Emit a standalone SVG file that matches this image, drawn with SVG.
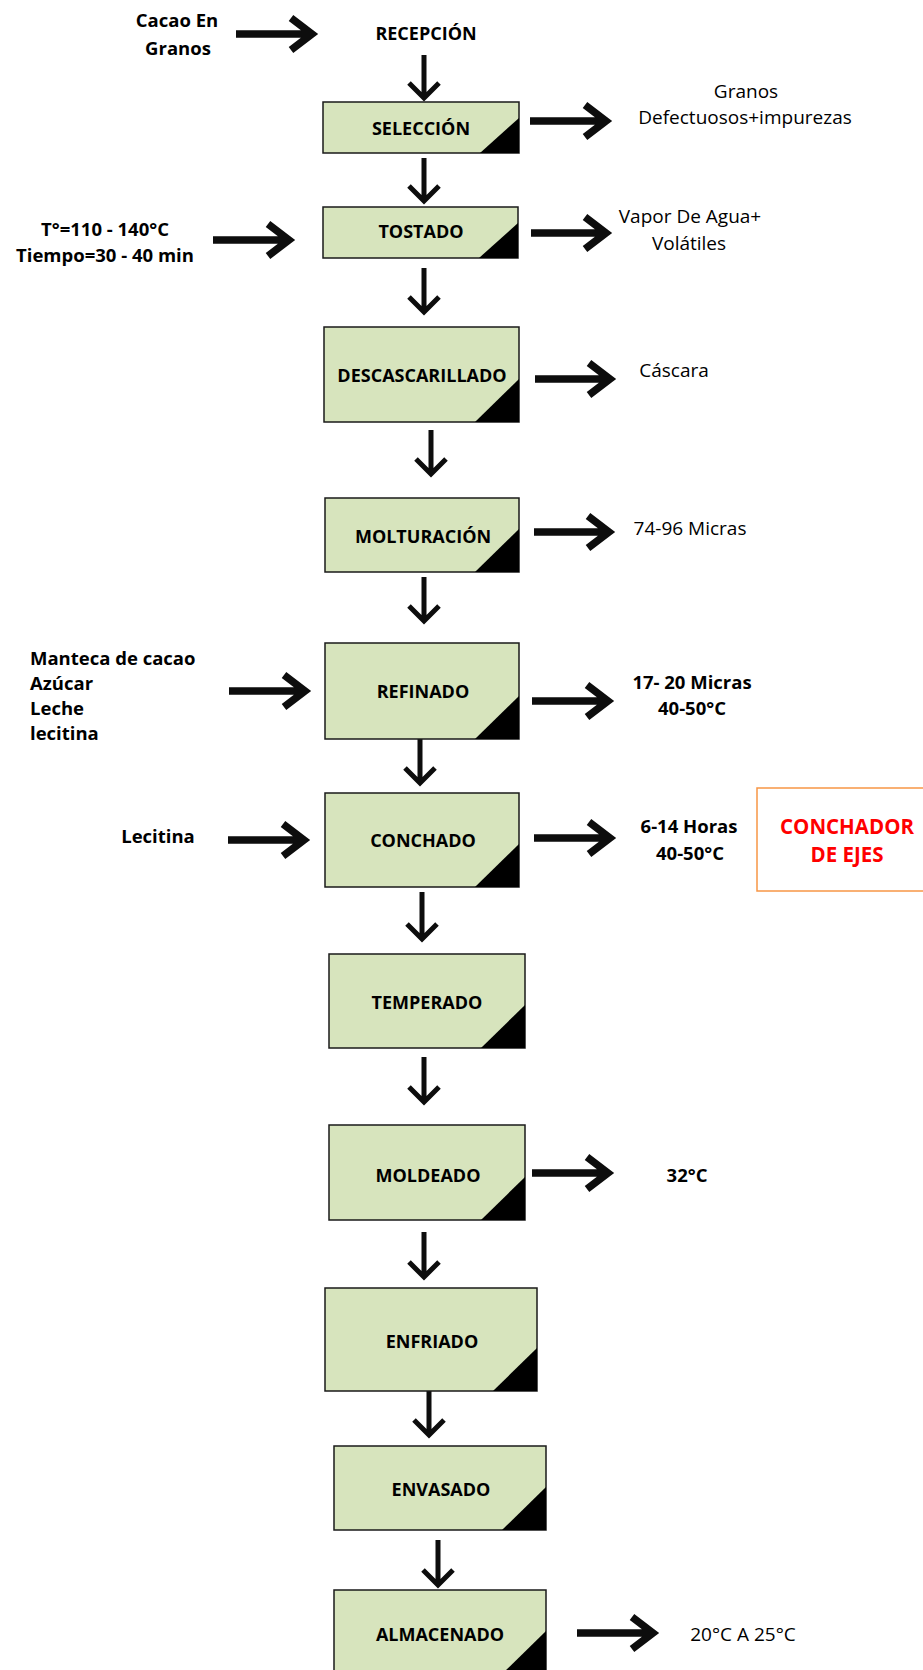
<svg xmlns="http://www.w3.org/2000/svg" width="923" height="1670" viewBox="0 0 923 1670">
<style>
.box{fill:#D7E4BD;stroke:#1a1a1a;stroke-width:1.5}
.tri{fill:#000}
.t{font-family:"Open Sans","Liberation Sans",sans-serif;fill:#000}
.lbl{font-size:18px;font-weight:bold;text-anchor:middle}
.ab{font-size:18.5px;font-weight:bold}
.ar{font-size:19px;font-weight:normal}
.mid{text-anchor:middle}
.red{font-size:20.5px;font-weight:bold;fill:#FF0000;text-anchor:middle}
.ha{fill:none;stroke:#0d0d0d;stroke-width:7.5;stroke-linejoin:miter;stroke-miterlimit:4}
.va{fill:none;stroke:#0d0d0d;stroke-width:5;stroke-linejoin:miter;stroke-miterlimit:4}
.note{fill:#fff;stroke:#F79646;stroke-width:1.5}
</style>
<rect width="923" height="1670" fill="#fff"/>

<g id="connectors">
<path class="ha" d="M236 34 H310 M291 18 L312 34 L291 50"/>
<path class="ha" d="M530 121 H604 M585 105 L606 121 L585 137"/>
<path class="ha" d="M213 240 H287 M268 224 L289 240 L268 256"/>
<path class="ha" d="M531 233 H604 M585 217 L606 233 L585 249"/>
<path class="ha" d="M535 379 H608 M589 363 L610 379 L589 395"/>
<path class="ha" d="M534 532 H607 M588 516 L609 532 L588 548"/>
<path class="ha" d="M229 691 H303 M284 675 L305 691 L284 707"/>
<path class="ha" d="M532 701 H606 M587 685 L608 701 L587 717"/>
<path class="ha" d="M228 840 H302 M283 824 L304 840 L283 856"/>
<path class="ha" d="M534 838 H608 M589 822 L610 838 L589 854"/>
<path class="ha" d="M532 1173 H606 M587 1157 L608 1173 L587 1189"/>
<path class="ha" d="M577 1633 H651 M632 1617 L653 1633 L632 1649"/>

<path class="va" d="M424 55 V96 M409 83 L424 98 L439 83"/>
<path class="va" d="M424 158 V199 M409 186 L424 201 L439 186"/>
<path class="va" d="M424 268 V310 M409 297 L424 312 L439 297"/>
<path class="va" d="M431 430 V472 M416 459 L431 474 L446 459"/>
<path class="va" d="M424 577 V619 M409 606 L424 621 L439 606"/>
<path class="va" d="M420 739 V781 M405 768 L420 783 L435 768"/>
<path class="va" d="M422 892 V937 M407 924 L422 939 L437 924"/>
<path class="va" d="M424 1057 V1100 M409 1087 L424 1102 L439 1087"/>
<path class="va" d="M424 1232 V1275 M409 1262 L424 1277 L439 1262"/>
<path class="va" d="M429 1391 V1433 M414 1420 L429 1435 L444 1420"/>
<path class="va" d="M438 1540 V1583 M423 1570 L438 1585 L453 1570"/>
</g>

<g id="recepcion">
<text class="t lbl" x="426" y="40">RECEPCIÓN</text>
</g>

<g id="seleccion">
<rect class="box" x="323" y="102" width="196" height="51"/>
<path class="tri" d="M480 153 L519 118 L519 153 Z"/>
<text class="t lbl" x="421" y="135">SELECCIÓN</text>
</g>

<g id="tostado">
<rect class="box" x="323" y="207" width="195" height="51"/>
<path class="tri" d="M479 258 L518 223 L518 258 Z"/>
<text class="t lbl" x="421" y="238">TOSTADO</text>
</g>

<g id="descascarillado">
<rect class="box" x="324" y="327" width="195" height="95"/>
<path class="tri" d="M475 422 L519 379 L519 422 Z"/>
<text class="t lbl" x="422" y="382">DESCASCARILLADO</text>
</g>

<g id="molturacion">
<rect class="box" x="325" y="498" width="194" height="74"/>
<path class="tri" d="M475 572 L519 529 L519 572 Z"/>
<text class="t lbl" x="423" y="543">MOLTURACIÓN</text>
</g>

<g id="refinado">
<rect class="box" x="325" y="643" width="194" height="96"/>
<path class="tri" d="M475 739 L519 696 L519 739 Z"/>
<text class="t lbl" x="423" y="698">REFINADO</text>
</g>

<g id="conchado">
<rect class="box" x="325" y="793" width="194" height="94"/>
<path class="tri" d="M475 887 L519 844 L519 887 Z"/>
<text class="t lbl" x="423" y="847">CONCHADO</text>
</g>

<g id="temperado">
<rect class="box" x="329" y="954" width="196" height="94"/>
<path class="tri" d="M481 1048 L525 1005 L525 1048 Z"/>
<text class="t lbl" x="427" y="1009">TEMPERADO</text>
</g>

<g id="moldeado">
<rect class="box" x="329" y="1125" width="196" height="95"/>
<path class="tri" d="M481 1220 L525 1177 L525 1220 Z"/>
<text class="t lbl" x="428" y="1182">MOLDEADO</text>
</g>

<g id="enfriado">
<rect class="box" x="325" y="1288" width="212" height="103"/>
<path class="tri" d="M493 1391 L537 1348 L537 1391 Z"/>
<text class="t lbl" x="432" y="1348">ENFRIADO</text>
</g>

<g id="envasado">
<rect class="box" x="334" y="1446" width="212" height="84"/>
<path class="tri" d="M502 1530 L546 1487 L546 1530 Z"/>
<text class="t lbl" x="441" y="1496">ENVASADO</text>
</g>

<g id="almacenado">
<rect class="box" x="334" y="1590" width="212" height="84"/>
<path class="tri" d="M502 1674 L546 1631 L546 1674 Z"/>
<text class="t lbl" x="440" y="1641">ALMACENADO</text>
</g>

<g id="conchador-note">
<rect class="note" x="757" y="788" width="180" height="103"/>
<text class="t red" x="847" y="834">CONCHADOR</text>
<text class="t red" x="847" y="862">DE EJES</text>
</g>

<g id="inputs">
<text class="t ab mid" x="177" y="27">Cacao En</text>
<text class="t ab mid" x="178" y="55">Granos</text>
<text class="t ab mid" x="105" y="236">T°=110 - 140°C</text>
<text class="t ab mid" x="105" y="262">Tiempo=30 - 40 min</text>
<text class="t ab" x="30" y="665">Manteca de cacao</text>
<text class="t ab" x="30" y="690">Azúcar</text>
<text class="t ab" x="30" y="715">Leche</text>
<text class="t ab" x="30" y="740">lecitina</text>
<text class="t ab mid" x="158" y="843">Lecitina</text>
</g>

<g id="outputs">
<text class="t ar mid" x="746" y="98">Granos</text>
<text class="t ar mid" x="745" y="124">Defectuosos+impurezas</text>
<text class="t ar mid" x="690" y="223">Vapor De Agua+</text>
<text class="t ar mid" x="689" y="250">Volátiles</text>
<text class="t ar mid" x="674" y="377">Cáscara</text>
<text class="t ar mid" x="690" y="535">74-96 Micras</text>
<text class="t ab mid" x="692" y="689">17- 20 Micras</text>
<text class="t ab mid" x="692" y="715">40-50°C</text>
<text class="t ab mid" x="689" y="833">6-14 Horas</text>
<text class="t ab mid" x="690" y="860">40-50°C</text>
<text class="t ab mid" x="687" y="1182">32°C</text>
<text class="t ar mid" x="743" y="1641">20°C A 25°C</text>
</g>
</svg>
